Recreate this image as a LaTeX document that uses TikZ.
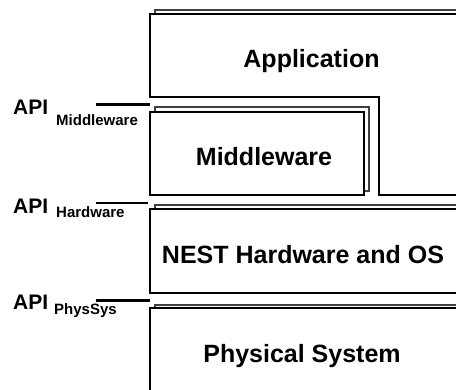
\documentclass[tikz,border=0pt]{standalone}
\usepackage{fontspec}
\setmainfont{Liberation Sans}
\usepackage{tikz}

\begin{document}
\begin{tikzpicture}[x=1pt, y=-1pt,
  layer/.style={draw=black, fill=white, line width=2.1pt},
  sheet/.style={draw=black!75, fill=white, line width=1.5pt},
  apiline/.style={line width=2.1pt},
  big/.style={font=\bfseries\fontsize{25}{30}\selectfont, inner sep=0pt, anchor=base},
  api/.style={font=\bfseries\fontsize{21}{25}\selectfont, inner sep=0pt, anchor=base west},
  apisub/.style={font=\bfseries\fontsize{15}{18}\selectfont, inner sep=0pt, anchor=base west}]
\useasboundingbox (0,0) rectangle (456,389);
\clip (0,0) rectangle (456,389);

% Application
\draw[sheet] (155,60) -- (155,10) -- (470,10);
\filldraw[layer] (470,14) -- (150,14) -- (150,97) -- (379,97) -- (379,195) -- (470,195);
\node[big] (app) at (311.5,67) {Application};

% Middleware
\filldraw[sheet] (155,107) rectangle (369,191);
\filldraw[layer] (150,112) rectangle (364,195);
\node[big] (mw) at (264,165) {Middleware};

% NEST hardware
\draw[sheet] (155,240) -- (155,205) -- (470,205);
\filldraw[layer] (470,209) -- (150,209) -- (150,293) -- (470,293);
\node[big] (hw) at (303,263) {NEST Hardware and OS};

% physical system
\draw[sheet] (155,340) -- (155,305) -- (470,305);
\filldraw[layer] (470,308) -- (150,308) -- (150,400) -- (470,400);
\node[big] (phys) at (302,362) {Physical System};

% API levels
\coordinate (mwA) at (96,104.5);
\coordinate (mwB) at (150,104.5);
\coordinate (hwA) at (96,203);
\coordinate (hwB) at (148,203);
\coordinate (psA) at (96,300.5);
\coordinate (psB) at (150,300.5);
\draw[apiline] (mwA) -- (mwB);
\draw[apiline] (hwA) -- (hwB);
\draw[apiline] (psA) -- (psB);

\node[api] (apiMw) at (13,114) {API};
\node[apisub] (subMw) at (56,125) {Middleware};
\node[api] (apiHw) at (13,213.3) {API};
\node[apisub] (subHw) at (56,217) {Hardware};
\node[api] (apiPs) at (13,309) {API};
\node[apisub] (subPs) at (54,314) {PhysSys};
\end{tikzpicture}
\end{document}
